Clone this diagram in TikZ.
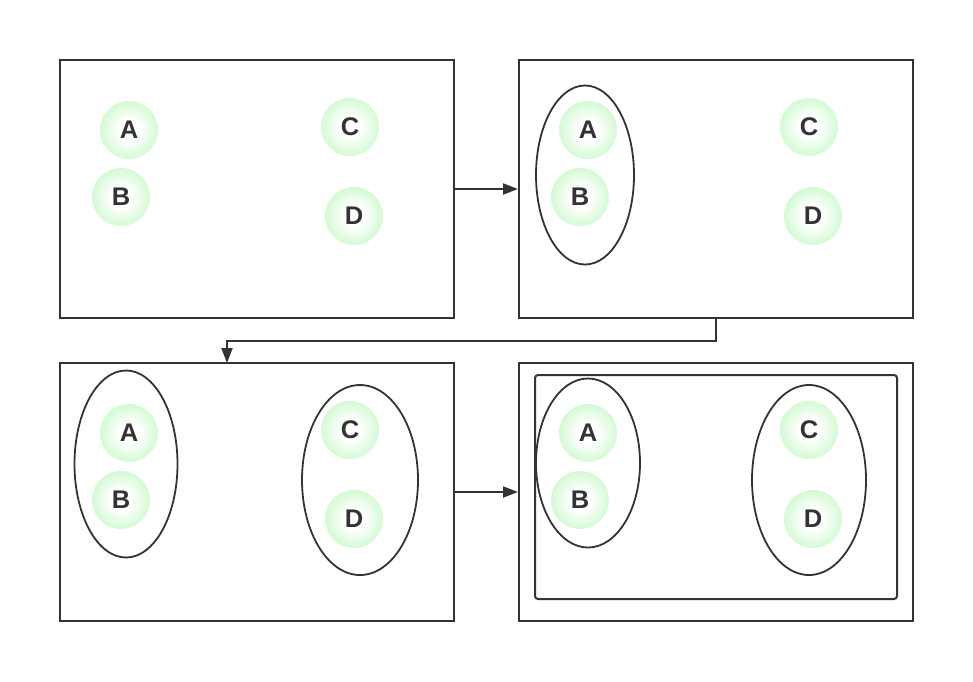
\documentclass[tikz,border=0pt]{standalone}
\usepackage{fontspec}
\setmainfont{Liberation Sans}
\usetikzlibrary{shapes.geometric,arrows.meta}
\definecolor{linegray}{HTML}{333333}
\definecolor{ballgreen}{HTML}{B8F7B8}
\pgfdeclareradialshading{ballshade}{\pgfpoint{0bp}{0bp}}{color(0bp)=(white); color(9bp)=(white); color(35bp)=(ballgreen); color(50bp)=(ballgreen)}
\begin{document}
\begin{tikzpicture}[
x=1pt, y=-1pt,
stagebox/.style={rectangle, draw=linegray, line width=2pt, minimum width=394pt, minimum height=258pt},
groupnode/.style={ellipse, draw=linegray, line width=1.8pt},
ballnode/.style={circle, shading=ballshade, minimum size=58pt, inner sep=0pt, text=linegray, font=\fontsize{25.5}{30}\selectfont\bfseries},
arrowline/.style={draw=linegray, line width=2pt, -{Triangle[length=15pt,width=11pt]}},
]
\useasboundingbox (0,0) rectangle (973,681);

%Boxes
\node[stagebox] (stageone) at (257,189) {};
\node[stagebox] (stagetwo) at (716,189) {};
\node[stagebox] (stagethree) at (257,492) {};
\node[stagebox] (stagefour) at (716,492) {};
\node[draw=linegray, line width=2pt, rounded corners=3pt, minimum width=362pt, minimum height=224pt] (outergroup) at (716,487) {};

%Groups
\node[groupnode, minimum width=98pt, minimum height=179pt] (grouptwo) at (585,175) {};
\node[groupnode, minimum width=103pt, minimum height=187pt] (groupthreeab) at (126,464) {};
\node[groupnode, minimum width=116pt, minimum height=190pt] (groupthreecd) at (360,480) {};
\node[groupnode, minimum width=104pt, minimum height=169pt] (groupfourab) at (588,463) {};
\node[groupnode, minimum width=114pt, minimum height=190pt] (groupfourcd) at (809,480) {};

%Balls
\node[ballnode] (aone) at (129,130) {A};
\node[ballnode] (bone) at (121,197) {B};
\node[ballnode] (cone) at (350,127) {C};
\node[ballnode] (done) at (354,216) {D};

\node[ballnode] (atwo) at (588,130) {A};
\node[ballnode] (btwo) at (580,197) {B};
\node[ballnode] (ctwo) at (809,127) {C};
\node[ballnode] (dtwo) at (813,216) {D};

\node[ballnode] (athree) at (129,433) {A};
\node[ballnode] (bthree) at (121,500) {B};
\node[ballnode] (cthree) at (350,430) {C};
\node[ballnode] (dthree) at (354,519) {D};

\node[ballnode] (afour) at (588,433) {A};
\node[ballnode] (bfour) at (580,500) {B};
\node[ballnode] (cfour) at (809,430) {C};
\node[ballnode] (dfour) at (813,519) {D};

%Lines
\draw[arrowline] (stageone.east) -- (stagetwo.west);
\draw[arrowline] (stagethree.east) -- (stagefour.west);
\draw[arrowline] (stagetwo.south) |- (227,341) -- (227,363);
\end{tikzpicture}
\end{document}
